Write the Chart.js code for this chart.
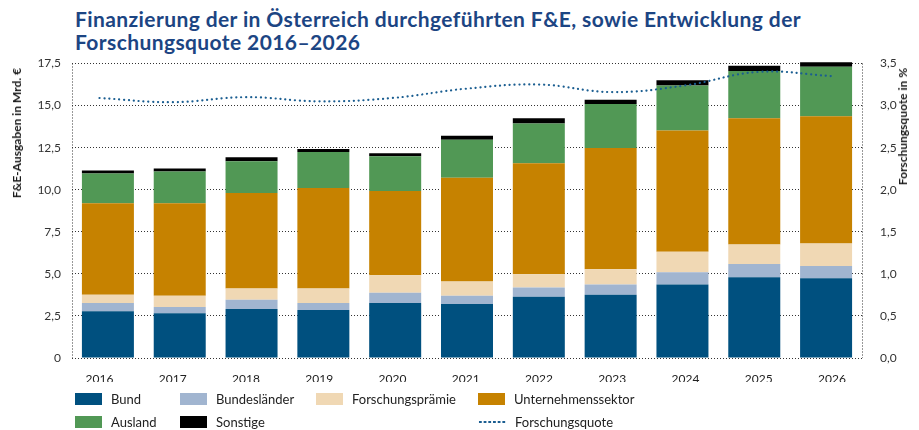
<!DOCTYPE html>
<html lang="de">
<head>
<meta charset="utf-8">
<script src="https://cdn.jsdelivr.net/npm/chart.js"></script>
<style>
  html, body { margin: 0; padding: 0; background: #fff; }
  body { width: 919px; height: 430px; position: relative; overflow: hidden; font-family: Lato, sans-serif; }
  #chart { position: absolute; left: 0; top: 0; }
  .title { position: absolute; left: 75px; top: 7px; font: bold 21px/23px Lato, sans-serif; letter-spacing: 0.4px; color: #1c4583; white-space: nowrap; }
  .axis-title { position: absolute; top: 68px; font: bold 12px/15px Lato, sans-serif; color: #1a1a1a;
                writing-mode: vertical-rl; transform: rotate(180deg); white-space: nowrap; }
  .legend-item { position: absolute; font: 13px/16px Lato, sans-serif; color: #222; display: flex; align-items: center; white-space: nowrap; }
  .legend-item .swatch { width: 27px; height: 12px; margin-right: 9px; }
  .legend-item .dots { width: 28px; height: 4px; margin-right: 9px;
                       background: radial-gradient(circle, #1b5e91 1.1px, transparent 1.5px) 0 0 / 4.7px 4px repeat-x; }
</style>
</head>
<body>
<div class="title">Finanzierung der in Österreich durchgeführten F&amp;E, sowie Entwicklung der<br>Forschungsquote 2016–2026</div>
<canvas id="chart" width="919" height="430"></canvas>
<div class="axis-title" style="left:9px">F&amp;E-Ausgaben in Mrd. €</div>
<div class="axis-title" style="left:895px">Forschungsquote in %</div>
<div id="legend"></div>
<script>
// Jahre
const years = ['2016', '2017', '2018', '2019', '2020', '2021', '2022', '2023', '2024', '2025', '2026'];

// F&E-Ausgaben in Mrd. €
const bund = [2.78, 2.66, 2.91, 2.85, 3.27, 3.21, 3.64, 3.76, 4.37, 4.80, 4.74];
const bundeslaender = [0.49, 0.37, 0.55, 0.42, 0.61, 0.49, 0.55, 0.61, 0.73, 0.79, 0.73];
const forschungspraemie = [0.49, 0.67, 0.67, 0.86, 1.04, 0.85, 0.79, 0.91, 1.22, 1.16, 1.34];
const unternehmen = [5.43, 5.49, 5.67, 5.97, 5.00, 6.16, 6.59, 7.20, 7.20, 7.50, 7.56];
const ausland = [1.77, 1.89, 1.89, 2.14, 2.07, 2.26, 2.37, 2.62, 2.68, 2.80, 2.93];
const sonstige = [0.18, 0.18, 0.24, 0.18, 0.18, 0.24, 0.31, 0.25, 0.30, 0.31, 0.28];

// Forschungsquote in %
const quote = [3.09, 3.04, 3.10, 3.05, 3.09, 3.20, 3.25, 3.16, 3.24, 3.40, 3.35];

const barSeries = [
  { label: 'Bund', data: bund, color: '#00507f' },
  { label: 'Bundesländer', data: bundeslaender, color: '#a1b5d0' },
  { label: 'Forschungsprämie', data: forschungspraemie, color: '#f0d8b4' },
  { label: 'Unternehmenssektor', data: unternehmen, color: '#c68200' },
  { label: 'Ausland', data: ausland, color: '#519855' },
  { label: 'Sonstige', data: sonstige, color: '#000000' }
];

const fmt = v => v.toFixed(1).replace('.', ',');
const gridColor = '#333';
Chart.defaults.font.family = 'Lato, sans-serif';

new Chart(document.getElementById('chart'), {
  type: 'bar',
  data: {
    labels: years,
    datasets: [
      ...barSeries.map(s => ({
        label: s.label,
        data: s.data,
        backgroundColor: s.color,
        stack: 'fe',
        grouped: false,
        barPercentage: 0.724,
        categoryPercentage: 1,
        clip: false,
        order: 1
      })),
      {
        type: 'line',
        label: 'Forschungsquote',
        data: quote.map((q, i) => ({ x: i, y: q })),
        xAxisID: 'x2',
        yAxisID: 'y1',
        borderColor: '#1b5e91',
        borderWidth: 2.2,
        borderDash: [0.1, 4.8],
        borderCapStyle: 'round',
        pointRadius: 0,
        tension: 0.4,
        fill: false,
        order: 0
      }
    ]
  },
  options: {
    responsive: false,
    animation: false,
    layout: { padding: { top: 63.5, bottom: 48, left: 0, right: 0 } },
    plugins: { legend: { display: false }, tooltip: { enabled: false } },
    scales: {
      x: {
        stacked: true,
        ticks: { display: false },
        grid: {
          drawTicks: false,
          color: c => (c.index === 0 || c.type === 'scale') ? gridColor : 'rgba(0,0,0,0)'
        },
        border: { display: false, dash: [1, 2] },
        afterFit: s => { s.height = 0; }
      },
      // Jahresachse für Beschriftung und Linie (etwas breiter gespreizt als die Balken)
      x2: {
        type: 'linear',
        position: 'bottom',
        bounds: 'data',
        offset: false,
        min: -0.375,
        max: 10.41,
        grid: { display: false, offset: false },
        border: { display: false },
        afterBuildTicks: s => { s.ticks = years.map((y, i) => ({ value: i })); },
        ticks: {
          autoSkip: false,
          maxRotation: 0,
          padding: 6,
          color: '#222',
          font: { size: 12 },
          callback: v => years[v]
        },
        afterFit: s => { s.height = 24; }
      },
      y: {
        stacked: true,
        min: 0,
        max: 17.5,
        ticks: {
          stepSize: 2.5,
          padding: 11,
          color: '#333',
          font: { size: 12 },
          callback: v => v === 0 ? '0' : fmt(v)
        },
        grid: { color: gridColor, drawTicks: false, lineWidth: 1 },
        border: { display: false, dash: [1, 2] },
        afterFit: s => { s.width = 72; }
      },
      y1: {
        position: 'right',
        min: 0,
        max: 3.5,
        ticks: {
          stepSize: 0.5,
          padding: 10,
          color: '#333',
          font: { size: 12 },
          callback: v => fmt(v)
        },
        grid: { display: false },
        border: { display: false },
        afterFit: s => { s.width = 57; }
      }
    }
  }
});

// Legende (zwei Zeilen, vier Spalten)
const colLeft = [75, 180, 316, 478];
const rowTop = [390.5, 414];
const legendItems = [
  { s: barSeries[0], col: 0, row: 0 },
  { s: barSeries[1], col: 1, row: 0 },
  { s: barSeries[2], col: 2, row: 0 },
  { s: barSeries[3], col: 3, row: 0 },
  { s: barSeries[4], col: 0, row: 1 },
  { s: barSeries[5], col: 1, row: 1 },
  { s: { label: 'Forschungsquote' }, col: 3, row: 1, line: true }
];
const legend = document.getElementById('legend');
legendItems.forEach(it => {
  const el = document.createElement('div');
  el.className = 'legend-item';
  el.style.left = colLeft[it.col] + 'px';
  el.style.top = rowTop[it.row] + 'px';
  const sw = document.createElement('span');
  if (it.line) {
    sw.className = 'dots';
  } else {
    sw.className = 'swatch';
    sw.style.background = it.s.color;
  }
  el.appendChild(sw);
  el.appendChild(document.createTextNode(it.s.label));
  legend.appendChild(el);
});
</script>
</body>
</html>
